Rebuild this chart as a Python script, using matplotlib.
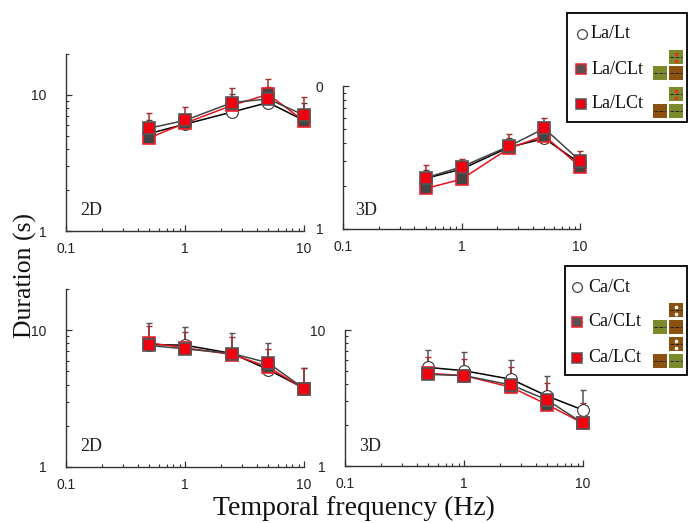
import matplotlib
matplotlib.use('Agg')
import matplotlib.pyplot as plt
from matplotlib.patches import Rectangle
from matplotlib.ticker import LogLocator, NullFormatter, FixedFormatter, FixedLocator

W, H = 694, 523
SERIF = 'Liberation Serif'
SANS = 'Liberation Sans'

freq = [0.5, 1, 2.5, 5, 10]

# top left, 2D
la_lt_2d = [5.2, 6.1, 7.5, 8.8, 6.5]
la_clt_2d = [4.83, 6.2, 8.4, 10.1, 6.44]
la_lct_2d = [5.7, 6.5, 8.8, 9.35, 7.1]
la_clt_2d_up = [6.5, 7.3, 10.2, 11.5, 8.7]
la_lct_2d_up = [7.4, 8.2, 11.3, 13.1, 9.6]

# top right, 3D
la_lt_3d = [2.26, 2.62, 3.72, 4.30, 2.88]
la_clt_3d = [1.92, 2.23, 3.66, 4.49, 2.73]
la_lct_3d = [2.28, 2.72, 3.78, 5.05, 3.0]
la_clt_3d_up = [2.6, 2.95, 4.3, 5.6, 3.3]
la_lct_3d_up = [2.79, 3.09, 4.6, 6.0, 3.5]

# bottom left, 2D
ca_ct_2d = [7.85, 7.77, 6.75, 5.15, 3.76]
ca_clt_2d = [8.08, 7.43, 6.64, 5.39, 3.72]
ca_lct_2d = [7.73, 7.3, 6.75, 5.77, 3.74]
ca_clt_2d_up = [11.3, 10.6, 9.5, 8.0, 5.33]
ca_lct_2d_up = [10.7, 9.7, 8.9, 7.3, 5.33]

# bottom right, 3D
ca_ct_3d = [5.31, 5.02, 4.34, 3.27, 2.58]
ca_clt_3d = [4.8, 4.62, 3.79, 2.83, 2.06]
ca_lct_3d = [4.72, 4.62, 3.94, 3.06, 2.06]
ca_ct_3d_up = [7.13, 6.89, 6.0, 4.62, 3.62]
ca_lct_3d_up = [6.3, 6.1, 5.3, 4.05, 2.89]

x_ticks = [0.1, 1, 10]
x_labels = ['0.1', '1', '10']

fig = plt.figure(figsize=(W / 100, H / 100), dpi=100)


def panel_axes(left, right, bottom, top):
    # pixel box from the top left corner of the picture
    return fig.add_axes([left / W, 1 - bottom / H, (right - left) / W, (bottom - top) / H])


def style_axes(ax, ymax, y_labels, tag, tag_x, tag_y):
    ax.set_xscale('log')
    ax.set_yscale('log')
    ax.set_xlim(0.1, 10)
    ax.set_ylim(1, ymax)
    ax.patch.set_alpha(0)
    for side in ['top', 'right']:
        ax.spines[side].set_visible(False)
    for side in ['left', 'bottom']:
        ax.spines[side].set_linewidth(1.0)
        ax.spines[side].set_color('#333333')
    ax.xaxis.set_major_locator(FixedLocator(x_ticks))
    ax.xaxis.set_major_formatter(FixedFormatter(x_labels))
    ax.xaxis.set_minor_locator(LogLocator(base=10, subs=range(2, 10), numticks=10))
    ax.xaxis.set_minor_formatter(NullFormatter())
    ax.yaxis.set_major_locator(FixedLocator([1, 10]))
    ax.yaxis.set_major_formatter(FixedFormatter(y_labels))
    ax.yaxis.set_minor_locator(LogLocator(base=10, subs=range(2, 10), numticks=10))
    ax.yaxis.set_minor_formatter(NullFormatter())
    ax.tick_params(which='major', direction='in', length=4, width=0.9, color='#333333')
    ax.tick_params(which='minor', direction='in', length=2.5, width=0.8, color='#333333')
    ax.tick_params(axis='x', which='major', pad=8)
    ax.tick_params(axis='y', which='major', pad=14)
    for lab in ax.get_xticklabels() + ax.get_yticklabels():
        lab.set_family(SANS)
        lab.set_fontsize(10)
        lab.set_color('#222222')
    ax.text(tag_x, tag_y, tag, transform=ax.transAxes, family=SERIF, fontsize=13, color='#222222')


def draw_series(ax, open_vals, grey_vals, red_vals, ups):
    for up, base, col in ups:
        ax.vlines(freq, base, up, color=col, linewidth=1.1, zorder=2, clip_on=False)
        ax.plot(freq, up, linestyle='none', marker='_', markersize=4.5, markeredgewidth=1.0,
                color=col, zorder=2, clip_on=False)
    ax.plot(freq, open_vals, color='black', linewidth=1.1, marker='o', markersize=8.5,
            markerfacecolor='white', markeredgecolor='#333333', markeredgewidth=0.8, zorder=3, clip_on=False)
    ax.plot(freq, grey_vals, color='#e8141c', linewidth=1.1, marker='s', markersize=8.5,
            markerfacecolor='#444444', markeredgecolor='#f0202a', markeredgewidth=1.2, zorder=4, clip_on=False)
    ax.plot(freq, red_vals, color='#444444', linewidth=1.1, marker='s', markersize=8.5,
            markerfacecolor='#f20010', markeredgecolor='#555555', markeredgewidth=1.2, zorder=5, clip_on=False)


ax1 = panel_axes(66, 304, 231, 54)
style_axes(ax1, 20, ['1', '10'], '2D', 0.058, 0.09)
draw_series(ax1, la_lt_2d, la_clt_2d, la_lct_2d,
            [(la_clt_2d_up, la_clt_2d, '#444444'), (la_lct_2d_up, la_lct_2d, '#a03030')])

ax2 = panel_axes(343, 580, 229, 86)
style_axes(ax2, 10, ['1', '0'], '3D', 0.05, 0.1)
draw_series(ax2, la_lt_3d, la_clt_3d, la_lct_3d,
            [(la_clt_3d_up, la_clt_3d, '#444444'), (la_lct_3d_up, la_lct_3d, '#a03030')])

ax3 = panel_axes(66, 304, 467, 289)
style_axes(ax3, 20, ['1', '10'], '2D', 0.058, 0.09)
draw_series(ax3, ca_ct_2d, ca_clt_2d, ca_lct_2d,
            [(ca_clt_2d_up, ca_clt_2d, '#555555'), (ca_lct_2d_up, ca_lct_2d, '#a03030')])

ax4 = panel_axes(345, 583, 466, 330)
style_axes(ax4, 10, ['1', '10'], '3D', 0.06, 0.11)
draw_series(ax4, ca_ct_3d, ca_clt_3d, ca_lct_3d,
            [(ca_ct_3d_up, ca_ct_3d, '#555555'), (ca_lct_3d_up, ca_lct_3d, '#a03030')])

# overlay in picture pixels for the legend boxes and big axis titles
over = fig.add_axes([0, 0, 1, 1], zorder=10)
over.set_xlim(0, W)
over.set_ylim(H, 0)
over.axis('off')
over.patch.set_alpha(0)

OLIVE = '#7d8a2c'
BROWN = '#8a5210'


def legend_box(x0, y0, x1, y1, rows, stim):
    over.add_patch(Rectangle((x0, y0), x1 - x0, y1 - y0, facecolor='white', edgecolor='black', linewidth=1.3))
    kinds = [
        dict(marker='o', markerfacecolor='white', markeredgecolor='#444444', markeredgewidth=0.9, color='#444444'),
        dict(marker='s', markerfacecolor='#555555', markeredgecolor='#e8202a', markeredgewidth=1.1, color='#e8202a'),
        dict(marker='s', markerfacecolor='#f20010', markeredgecolor='#555555', markeredgewidth=1.1, color='#555555'),
    ]
    for (mx, tx, ty, label), kind in zip(rows, kinds):
        over.plot([mx - 5, mx + 5], [ty, ty], linewidth=0.9, markevery=[], **kind)
        over.plot([mx], [ty], markersize=7, **kind)
        over.text(tx, ty, label, family=SERIF, fontsize=13, va='center', color='#111111')
    for sx, sy, col, dot in stim:
        over.add_patch(Rectangle((sx, sy), 14, 14, facecolor=col, edgecolor='none'))
        over.plot([sx + 1, sx + 13], [sy + 7, sy + 7], color='#222222', linewidth=0.7, linestyle='--')
        if dot:
            over.plot([sx + 7, sx + 7], [sy + 3.5, sy + 10.5], linestyle='none', marker='o',
                      markersize=2.6, color=dot, markeredgewidth=0)


legend_box(567, 13, 687, 122,
           [(582, 591, 34, 'La/Lt'), (581, 592, 69, 'La/CLt'), (581, 592, 104, 'La/LCt')],
           [(669, 50, OLIVE, '#e8302a'), (653, 66, OLIVE, None), (669, 66, BROWN, None),
            (669, 87, OLIVE, '#e8302a'), (653, 104, BROWN, None), (669, 104, OLIVE, None)])
legend_box(565, 266, 687, 375,
           [(577, 588, 287, 'Ca/Ct'), (577, 588, 322, 'Ca/CLt'), (577, 588, 358, 'Ca/LCt')],
           [(669, 303, BROWN, 'white'), (653, 320, OLIVE, None), (669, 320, BROWN, None),
            (669, 337, BROWN, 'white'), (653, 354, BROWN, None), (669, 354, OLIVE, None)])

over.text(25, 276, 'Duration (s)', family=SERIF, fontsize=18.5, rotation=90, ha='center', va='center', color='#111111')
over.text(354, 508, 'Temporal frequency (Hz)', family=SERIF, fontsize=20, ha='center', va='center', color='#111111')

fig.savefig('out.png', dpi=100)
